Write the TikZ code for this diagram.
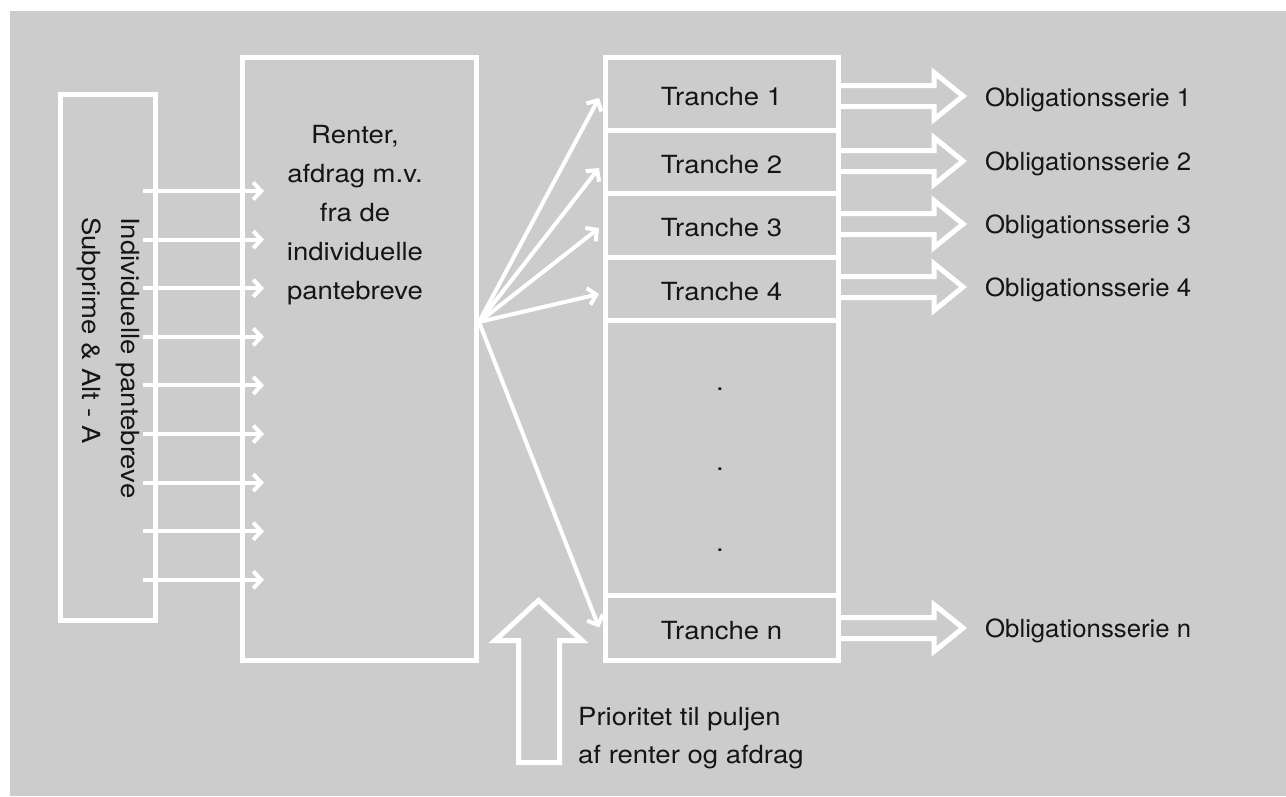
\documentclass[tikz,border=0pt]{standalone}
\usepackage{fontspec}
\setmainfont[FakeStretch=1.1]{TeX Gyre Heros}
\newfontfamily\bondfont[FakeStretch=1.03]{TeX Gyre Heros}
\usetikzlibrary{arrows.meta}
\definecolor{panel}{HTML}{CCCCCC}
\definecolor{ink}{HTML}{151515}

% hollow block arrow leaving a tranche: #1 tranche anchor, #2 vertical offset of the arrow axis
\newcommand\bondarrow[2]{%
  \draw[hollow] ([xshift=2.5pt]#1) ++(0,#2-10.5)
    -- ++(93.5,0) -- ++(0,-13) -- ++(29,23.5) -- ++(-29,23.5)
    -- ++(0,-13) -- ++(-93.5,0);}

\begin{document}
\begin{tikzpicture}[x=1pt,y=-1pt,
  frame/.style={draw=white, line width=5pt, inner sep=0pt, outer sep=0pt, anchor=north west},
  flow/.style={draw=white, line width=4pt, -{Straight Barb[length=8pt,width=17pt]}},
  hollow/.style={draw=white, line width=5pt, fill=panel, line join=miter},
  lbl/.style={text=ink, inner sep=0pt, font=\fontsize{25}{39}\selectfont},
  bond/.style={lbl, anchor=base west, font=\bondfont\fontsize{25}{39}\selectfont},
  tranche/.style={frame, lbl, minimum width=233pt, text height=24pt},
]
\useasboundingbox (0,0) rectangle (1286,796);
\fill[white] (0,0) rectangle (1286,796);
\fill[panel] (10,11) rectangle (1286,796);

% hollow arrows from the tranches to the bond series (drawn first, frames go on top)
\coordinate (t1e) at (838,93.5);
\coordinate (t2e) at (838,161.5);
\coordinate (t3e) at (838,225);
\coordinate (t4e) at (838,288.5);
\coordinate (tne) at (838,627.5);
\bondarrow{t1e}{2.5}
\bondarrow{t2e}{-0.5}
\bondarrow{t3e}{-1}
\bondarrow{t4e}{-1.5}
\bondarrow{tne}{0.5}

% pool of individual loans
\node[frame, minimum width=94.5pt, minimum height=525.5pt] (pool) at (60.5,94.5) {};
\node[lbl, rotate=-90, anchor=north west, align=left] (poolText) at (140,217)
  {Individuelle pantebreve\\Subprime \& Alt - A};

% collected cash flows
\node[frame, minimum width=234pt, minimum height=603pt] (cash) at (242,57) {};
\node[lbl, align=center, anchor=north] (cashText) at (355,125)
  {Renter,\\afdrag m.v.\\fra de\\individuelle\\pantebreve};

% tranche column
\node[tranche, minimum height=73pt] (t1) at (605,57) {Tranche 1};
\node[tranche, minimum height=63pt] (t2) at (605,130) {Tranche 2};
\node[tranche, minimum height=64pt] (t3) at (605,193) {Tranche 3};
\node[tranche, minimum height=63pt] (t4) at (605,257) {Tranche 4};
\node[frame, minimum width=233pt, minimum height=275pt] (gap) at (605,320) {};
\node[tranche, minimum height=65pt] (tn) at (605,595) {Tranche n};
\node[lbl, anchor=base] (d1) at (720,390) {.};
\node[lbl, anchor=base] (d2) at (720,470) {.};
\node[lbl, anchor=base] (d3) at (720,551) {.};

% loan payments into the pool
\foreach \i in {0,...,8} {
  \coordinate (in\i) at (143,191+\i*48.6);
  \coordinate (out\i) at (264,191+\i*48.6);
  \draw[flow] (in\i) -- (out\i);
}

% distribution to the tranches
\coordinate (hub) at (479,322);
\draw[flow] (hub) -- ([xshift=-6pt,yshift=-4.5pt]t1.west);
\draw[flow] (hub) -- ([xshift=-6pt,yshift=-6.5pt]t2.west);
\draw[flow] (hub) -- ([xshift=-6pt,yshift=-3pt]t3.west);
\draw[flow] (hub) -- ([xshift=-6pt,yshift=-5.5pt]t4.west);
\draw[flow] (hub) -- ([xshift=-6pt]tn.west);

% bond series
\node[bond] (o1) at (985,106) {Obligationsserie 1};
\node[bond] (o2) at (985,170.5) {Obligationsserie 2};
\node[bond] (o3) at (985,233.5) {Obligationsserie 3};
\node[bond] (o4) at (985,296.5) {Obligationsserie 4};
\node[bond] (on) at (985,637.5) {Obligationsserie n};

% priority arrow
\draw[hollow] (518.5,762.5) -- (518.5,640.5) -- (495,640.5) -- (538.5,600.5)
  -- (582,640.5) -- (559.5,640.5) -- (559.5,762.5) -- cycle;
\node[lbl, anchor=north west, align=left, font=\fontsize{25}{38}\selectfont] (prio) at (578,707)
  {Prioritet til puljen\\af renter og afdrag};
\end{tikzpicture}
\end{document}
